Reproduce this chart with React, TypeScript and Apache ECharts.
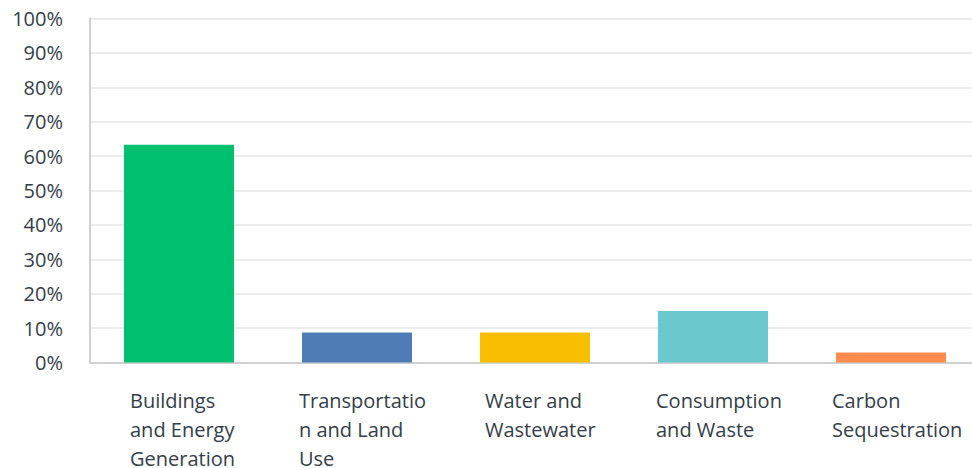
import React, { useEffect, useRef } from "react";
import * as echarts from "echarts";

const categories = [
  "Buildings\nand Energy\nGeneration",
  "Transportatio\nn and Land\nUse",
  "Water and\nWastewater",
  "Consumption\nand Waste",
  "Carbon\nSequestration",
];
const values = [63.3, 8.7, 8.7, 15.0, 2.9];
const colors = ["#00bf6f", "#507cb6", "#f9be00", "#6bc8cd", "#ff8b4f"];
const labelBlockWidths = [98, 116, 100, 114, 118];

export default function App() {
  const ref = useRef<HTMLDivElement>(null);
  useEffect(() => {
    if (!ref.current) return;
    const chart = echarts.init(ref.current, null, { renderer: "svg" });
    const rich: Record<string, any> = {};
    labelBlockWidths.forEach((w, i) => {
      rich["a" + i] = {
        width: w,
        align: "left",
        fontFamily: "Open Sans",
        fontSize: 20,
        lineHeight: 29,
        color: "#333e48",
      };
    });
    chart.setOption({
      animation: false,
      grid: { left: 90, top: 18.5, width: 890, height: 346.5, containLabel: false },
      xAxis: {
        type: "category",
        data: categories,
        axisLine: { show: true, lineStyle: { color: "#d0d0d0", width: 2 } },
        axisTick: { show: false },
        axisLabel: {
          interval: 0,
          margin: 23,
          align: "center",
          formatter: (v: string, idx: number) =>
            v.split("\n").map((l) => "{a" + idx + "|" + l + "}").join("\n"),
          rich,
        },
      },
      yAxis: {
        type: "value",
        min: 0,
        max: 100,
        interval: 10,
        axisLine: { show: true, lineStyle: { color: "#d0d0d0", width: 2 } },
        axisTick: { show: false },
        splitLine: { lineStyle: { color: "#ececec", width: 2 } },
        axisLabel: {
          formatter: "{value}%",
          margin: 27,
          fontFamily: "Open Sans",
          fontSize: 20,
          color: "#333e48",
        },
      },
      series: [
        {
          type: "bar",
          barWidth: 110,
          data: values.map((v, i) => ({ value: v, itemStyle: { color: colors[i] } })),
        },
      ],
    });
    return () => chart.dispose();
  }, []);
  return (
    <div style={{ position: "fixed", left: 0, top: 0, width: 972, height: 468, overflow: "hidden", background: "#fff" }}>
      <div ref={ref} style={{ width: 980, height: 468 }} />
    </div>
  );
}
